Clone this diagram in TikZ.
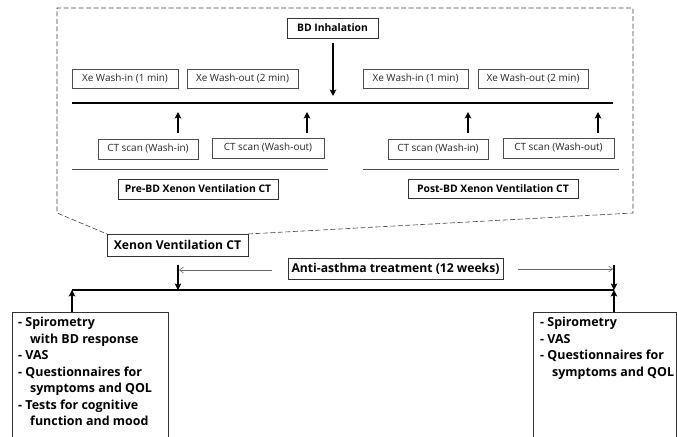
\documentclass[tikz,border=0pt]{standalone}
\usepackage{fontspec}
\setmainfont{Open Sans}
\usetikzlibrary{arrows.meta}
\begin{document}
\begin{tikzpicture}[x=1bp,y=-1bp,
  smallbox/.style={draw=black!70,line width=0.6bp,inner sep=0,minimum height=19bp,font=\fontsize{10}{11}\selectfont,text=black!85},
  boldbox/.style={draw=black!80,line width=0.8bp,inner sep=0,minimum height=20bp,font=\fontsize{10.4}{12}\selectfont\bfseries},
  bigbox/.style={draw=black!80,line width=0.8bp,inner sep=0,minimum height=21bp,font=\fontsize{12.2}{14}\selectfont\bfseries},
  thick arrow/.style={line width=1.5bp,-{Stealth[length=6.5bp,width=6.5bp,inset=1.5bp]}},
  thin arrow/.style={draw=black!60,line width=0.6bp,-{Straight Barb[length=4bp,width=6bp]}},
  timeline/.style={line width=2bp},
  sepline/.style={draw=black!70,line width=0.6bp},
  listtext/.style={inner sep=0,anchor=north west,align=left,font=\fontsize{12.5}{16.6}\selectfont\bfseries}
]
\useasboundingbox (0,0) rectangle (677,437);
% dashed outline
\draw[black!75,dash pattern=on 5bp off 2.5bp,line width=0.6bp]
  (248,234) -- (633,213) -- (633,8) -- (57,8) -- (57,213) -- (107,234);
% top part
\node[boldbox,minimum width=91bp] (bd) at (332.5,28) {BD Inhalation};
\node[smallbox,minimum width=106bp] (xa1) at (125,78.5) {Xe Wash-in (1 min)};
\node[smallbox,minimum width=111bp] (xa2) at (242.5,78.5) {Xe Wash-out (2 min)};
\node[smallbox,minimum width=105bp] (xb1) at (415.5,78.5) {Xe Wash-in (1 min)};
\node[smallbox,minimum width=110bp] (xb2) at (533,78.5) {Xe Wash-out (2 min)};
\coordinate (tl1) at (72,103);
\coordinate (tl2) at (613,103);
\draw[timeline] (tl1) -- (tl2);
\coordinate (bdend) at (333,96);
\draw[thick arrow] (bd.south -| bdend) ++(0,5) -- (bdend);
\node[smallbox,minimum width=100bp,minimum height=20bp] (ca1) at (148,149) {CT scan (Wash-in)};
\node[smallbox,minimum width=112bp,minimum height=20bp] (ca2) at (268,148) {CT scan (Wash-out)};
\node[smallbox,minimum width=100bp,minimum height=20bp] (cb1) at (438,149) {CT scan (Wash-in)};
\node[smallbox,minimum width=111bp,minimum height=20bp] (cb2) at (558.5,148) {CT scan (Wash-out)};
\foreach \n/\x in {a1/178,a2/307,b1/468,b2/598}{
  \coordinate (s\n) at (\x,133);
  \coordinate (e\n) at (\x,112);
  \draw[thick arrow] (s\n) -- (e\n);
}
\coordinate (sepa1) at (72,169); \coordinate (sepa2) at (328,169);
\coordinate (sepb1) at (363,169); \coordinate (sepb2) at (619,169);
\draw[sepline] (sepa1) -- (sepa2);
\draw[sepline] (sepb1) -- (sepb2);
\node[boldbox,minimum width=160bp] (pre) at (198,189) {Pre-BD Xenon Ventilation CT};
\node[boldbox,minimum width=170bp,minimum height=19bp] (post) at (493,188.5) {Post-BD Xenon Ventilation CT};
% bottom part
\node[bigbox,minimum width=141bp,minimum height=22bp,fill=white] (xv) at (177.5,245) {Xenon Ventilation CT};
\node[bigbox,minimum width=215bp] (anti) at (395.5,268.5) {Anti-asthma treatment (12 weeks)};
\coordinate (m1) at (72,290);
\coordinate (m2) at (178,290);
\coordinate (m3) at (614,290);
\draw[timeline] (m1) -- (m3);
\coordinate (xvs) at (178,265);
\coordinate (rs) at (614,265);
\draw[thick arrow] (xvs) -- (m2);
\draw[thick arrow] (rs) -- (m3);
\coordinate (lb) at (72,312);
\coordinate (rb) at (614,312);
\draw[thick arrow] (lb) -- (m1);
\draw[thick arrow] (rb) -- (m3);
\coordinate (ta1) at (272,270); \coordinate (ta2) at (179,270);
\coordinate (tb1) at (518,269); \coordinate (tb2) at (613,269);
\draw[thin arrow] (ta1) -- (ta2);
\draw[thin arrow] (tb1) -- (tb2);
% bottom boxes
\draw[draw=black!80,line width=0.8bp] (12,440) -- (12,312) -- (168,312) -- (168,440);
\draw[draw=black!80,line width=0.8bp] (533,440) -- (533,312) -- (676.6,312) -- (676.6,440);
\node[listtext] (ltext) at (18,317) {- Spirometry\\\hspace*{12bp}with BD response\\- VAS\\- Questionnaires for\\\hspace*{12bp}symptoms and QOL\\- Tests for cognitive\\\hspace*{12bp}function and mood};
\node[listtext] (rtext) at (540,317) {- Spirometry\\- VAS\\- Questionnaires for\\\hspace*{12bp}symptoms and QOL};
\end{tikzpicture}
\end{document}
